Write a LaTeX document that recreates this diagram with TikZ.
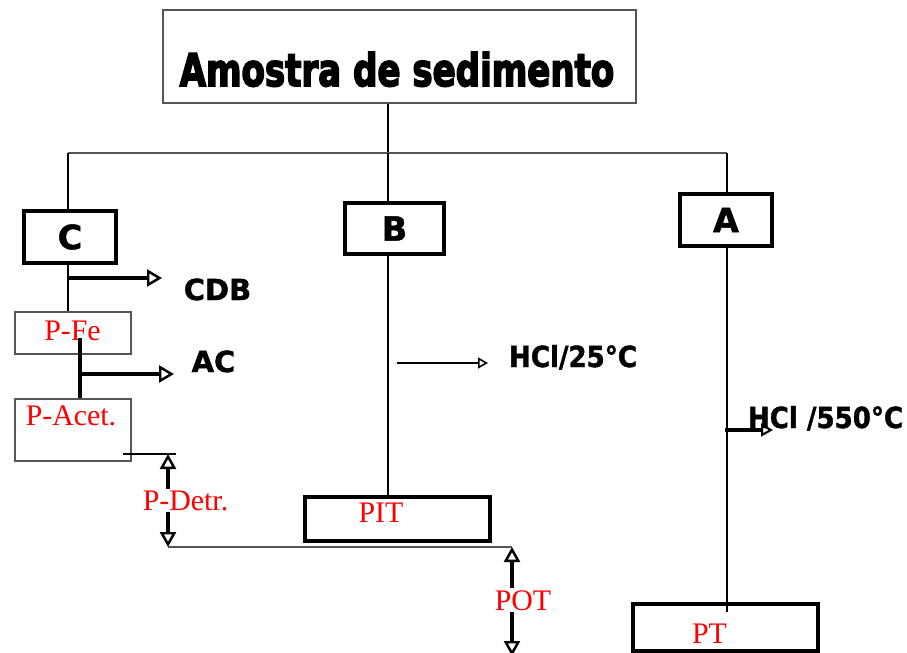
\documentclass[tikz,border=0pt]{standalone}
\usepackage{fontspec}
\usepackage{graphicx}
\setmainfont{Liberation Serif}
\newfontfamily\labelsans[FakeBold=1.5]{DejaVu Sans Bold}
\newfontfamily\titlesans[FakeBold=4]{DejaVu Sans Bold}
\usetikzlibrary{arrows.meta, positioning, calc}
\definecolor{fracred}{HTML}{FF0000}
\definecolor{edgegrey}{HTML}{555555}
\tikzstyle{titlebox} = [rectangle, draw=edgegrey, line width=0.8pt, inner sep=0pt,
                        minimum width=9.46cm, minimum height=1.86cm]
\tikzstyle{titletext} = [inner sep=0pt, anchor=base, font=\titlesans\fontsize{25.5}{28}\selectfont]
\tikzstyle{fracbox} = [rectangle, draw=black, line width=2pt, inner sep=0pt,
                       minimum width=1.84cm, minimum height=1.04cm,
                       font=\labelsans\fontsize{19}{22}\selectfont]
\tikzstyle{pbox} = [rectangle, draw=edgegrey, line width=0.7pt, minimum width=2.32cm]
\tikzstyle{endbox} = [rectangle, draw=black, line width=2pt, minimum width=3.7cm]
\tikzstyle{redtext} = [text=fracred, inner sep=0pt, anchor=base,
                       font=\fontsize{17}{20}\selectfont]
\tikzstyle{reagent} = [inner sep=0pt, anchor=base,
                       font=\labelsans\fontsize{16.5}{20}\selectfont]
\tikzstyle{link} = [line width=0.6pt]
\tikzstyle{arrow} = [-{Triangle[open, length=3mm, width=3.4mm, line width=1.4pt]}, line width=2.2pt]
\tikzstyle{thinarrow} = [-{Triangle[open, length=2mm, width=2.2mm, line width=0.9pt]}, line width=1pt]
\tikzstyle{dblarrow} = [{Triangle[open, length=3mm, width=3.2mm, line width=1.4pt]}-{Triangle[open, length=3mm, width=3.2mm, line width=1.4pt]},
                        line width=1.9pt]

\begin{document}
\begin{tikzpicture}[x=0.02cm, y=-0.02cm]
    \useasboundingbox (0,0) rectangle (907,653);

    % Sample and split
    \node[titlebox] (sample) at (399.5,56.5) {};
    \node[titletext] (sampleText) at (397,86) {\scalebox{0.76}[1]{Amostra de sedimento}};
    \coordinate (split) at (388,153);
    \coordinate (busC) at (68,153);
    \coordinate (busA) at (727,153);
    \draw[link] (sample.south -| split) -- (split);
    \draw[link, edgegrey] (busC) -- (busA);

    % Three sub-samples
    \node[fracbox] (fracC) at (70,237) {C};
    \node[fracbox, minimum width=1.98cm, minimum height=1.02cm] (fracB) at (394.5,228.5) {B};
    \node[fracbox] (fracA) at (726,220) {A};
    \draw[link] (busC) -- (busC |- fracC.north);
    \draw[link] (split) -- (split |- fracB.north);
    \draw[link] (busA) -- (busA |- fracA.north);

    % Branch C: sequential extraction
    \node[pbox, minimum height=0.84cm] (pFe) at (73,333) {};
    \node[pbox, minimum height=1.24cm] (pAcet) at (73,430) {};
    \node[redtext] (pFeText) at (72.5,340) {P-Fe};
    \node[redtext] (pAcetText) at (71,425) {P-Acet.};
    \draw[link] (fracC.south -| busC) -- (busC |- pFe.north);
    \coordinate (feTop) at (80,338);
    \draw[line width=2pt] (feTop) -- (feTop |- pAcet.north);

    \coordinate (cdbFrom) at (68,278);
    \coordinate (cdbTo) at (162,278);
    \draw[arrow] (cdbFrom) -- (cdbTo);
    \node[reagent] (cdb) at (217.5,300) {CDB};

    \coordinate (acFrom) at (80,374);
    \coordinate (acTo) at (174,374);
    \draw[arrow] (acFrom) -- (acTo);
    \node[reagent] (ac) at (213.5,372) {AC};

    % Detrital P
    \coordinate (acetTick) at (123,454);
    \coordinate (detrTop) at (168,454);
    \coordinate (detrBot) at (168,547);
    \draw[link] (acetTick) -- ($(detrTop)+(8,0)$);
    \draw[dblarrow] (detrTop) -- (detrBot);
    \node[redtext, fill=white, inner sep=1pt] (pDetr) at (185.5,510) {P-Detr.};

    % Branch B
    \node[endbox, minimum height=0.88cm] (pit) at (397.5,519) {};
    \node[redtext] (pitText) at (381,522) {PIT};
    \draw[link] (fracB.south -| split) -- (split |- pit.north);
    \coordinate (hcl1From) at (397,363);
    \coordinate (hcl1To) at (488,363);
    \draw[thinarrow] (hcl1From) -- (hcl1To);
    \node[reagent] (hcl25) at (573,367) {\scalebox{0.9}[1]{HCl/25°C}};

    % Organic P
    \coordinate (potTop) at (512,547);
    \coordinate (potBot) at (512,656);
    \draw[link, edgegrey, line width=0.8pt] (detrBot) -- (potTop);
    \draw[dblarrow] (potTop) -- (potBot);
    \node[redtext, fill=white, inner sep=1pt] (pot) at (523,610) {POT};

    % Branch A
    \node[endbox, minimum height=0.94cm] (pt) at (725.5,627.5) {};
    \node[redtext] (ptText) at (709.5,643) {PT};
    \draw[link] (fracA.south -| busA) -- (busA |- 0,612);
    \coordinate (hcl2From) at (725,430);
    \coordinate (hcl2To) at (773,430);
    \draw[arrow, -{Triangle[open, length=2.4mm, width=2.6mm, line width=1.2pt]}, line width=1.8pt] (hcl2From) -- (hcl2To);
    \node[reagent] (hcl550) at (825.5,428) {\scalebox{0.9}[1]{HCl /550°C}};
\end{tikzpicture}
\end{document}
